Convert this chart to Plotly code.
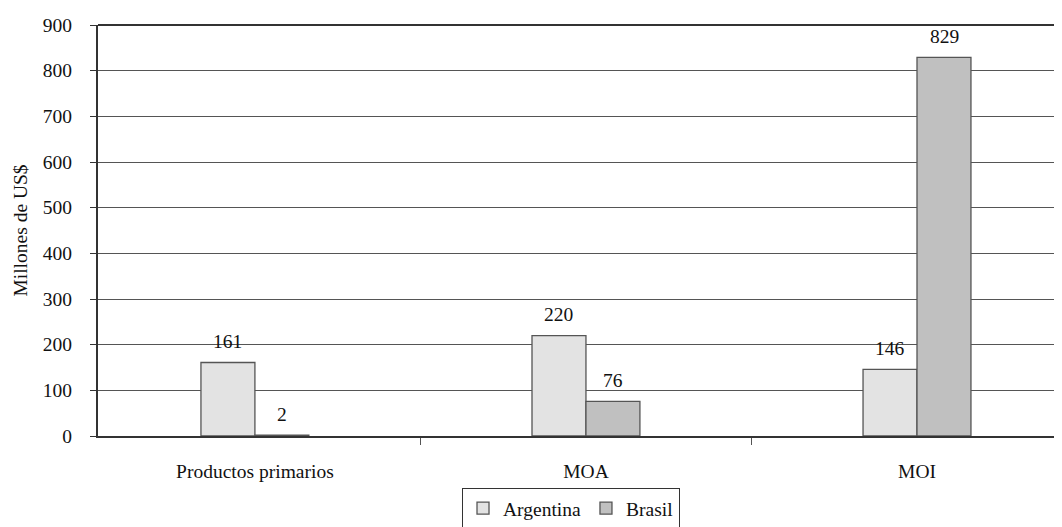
import plotly.graph_objects as go

categories = ["Productos primarios", "MOA", "MOI"]
argentina = [161, 220, 146]
brasil = [2, 76, 829]
series_names = ["Argentina", "Brasil"]
y_ticks = [0, 100, 200, 300, 400, 500, 600, 700, 800, 900]

FONT = "Liberation Serif, Times New Roman, serif"
FS = 19.5
fig = go.Figure()
fig.add_trace(go.Bar(x=categories, y=argentina, name=series_names[0],
                     marker=dict(color="#E3E3E3", line=dict(color="#555555", width=1.3))))
fig.add_trace(go.Bar(x=categories, y=brasil, name=series_names[1],
                     marker=dict(color="#C0C0C0", line=dict(color="#555555", width=1.3))))

bar_px = 54
for vals, sh in ((argentina, -bar_px / 2), (brasil, bar_px / 2)):
    for c, v in zip(categories, vals):
        fig.add_annotation(x=c, y=v, text=str(v), showarrow=False, xshift=sh, yshift=21,
                           yanchor="middle", font=dict(family=FONT, size=FS, color="#111"))

# page body has an 8px margin: size the figure so the plot lands where the reference has it
fig.update_layout(
    width=1054, height=519,
    margin=dict(l=90, r=0, t=17, b=91, autoexpand=False),
    paper_bgcolor="white", plot_bgcolor="white",
    barmode="group", bargap=0.674, bargroupgap=0,
    font=dict(family=FONT, size=FS, color="#111"),
    showlegend=True,
    legend=dict(orientation="h", x=0.3776, xanchor="left", y=-0.1265, yanchor="top",
                bordercolor="#333", borderwidth=1, bgcolor="white",
                font=dict(family=FONT, size=FS), itemwidth=30, tracegroupgap=0),
)
fig.update_xaxes(range=[-0.474, 2.438], showline=True, linecolor="#333", linewidth=2,
                 ticks="outside", tickson="boundaries", ticklen=7, tickcolor="#555",
                 ticklabelstandoff=17, showgrid=False, zeroline=False, automargin=False)
fig.update_yaxes(range=[0, 900], tickvals=y_ticks, showline=True, linecolor="#333", linewidth=2,
                 ticks="outside", ticklen=6, tickcolor="#333", ticklabelstandoff=14,
                 showgrid=True, gridcolor="#555", gridwidth=1, zeroline=False, automargin=False,
                 title=dict(text="Millones de US$", font=dict(family=FONT, size=FS), standoff=10))
fig.add_shape(type="line", xref="paper", yref="paper", x0=0, x1=1, y0=1, y1=1,
              line=dict(color="#333", width=2))
fig.write_html("out.html")
